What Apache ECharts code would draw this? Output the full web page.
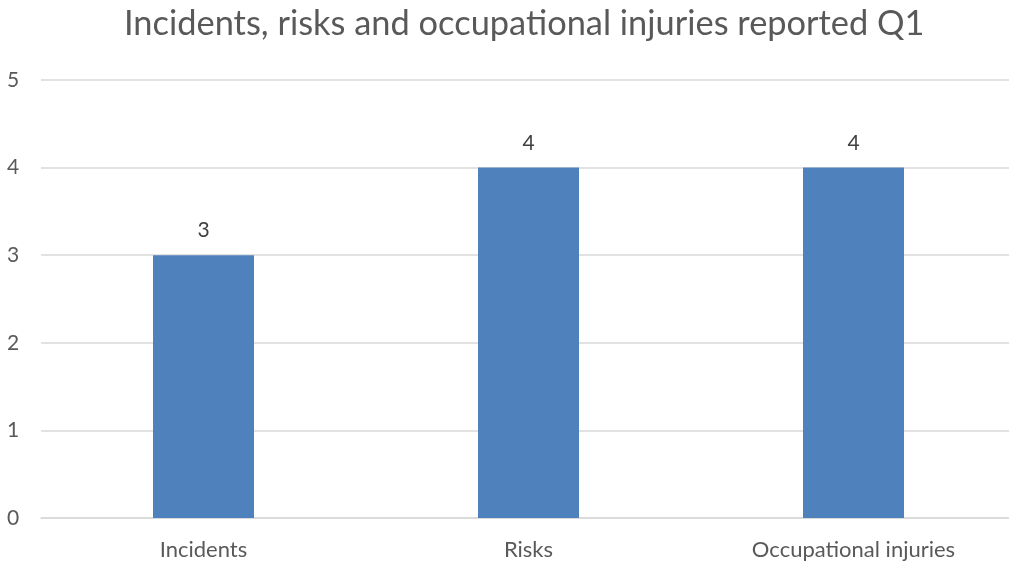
<!DOCTYPE html>
<html><head><meta charset="utf-8">
<script src="https://cdn.jsdelivr.net/npm/echarts@6/dist/echarts.min.js"></script>
<style>html,body{margin:0;padding:0;background:#fff}#c{width:1009px;height:561px}</style>
</head><body><div id="c"></div>
<script>
const categories = ["Incidents", "Risks", "Occupational injuries"];
const values = [3, 4, 4];
const titleText = "Incidents, risks and occupational injuries reported Q1";
const chart = echarts.init(document.getElementById('c'));
const font = "Lato, 'Open Sans', sans-serif";
chart.setOption({
  animation: false,
  backgroundColor: '#ffffff',
  title: {
    text: titleText, left: 119, top: 2,
    textStyle: { fontFamily: font, fontSize: 34.4, fontWeight: 'normal', color: '#595959' }
  },
  grid: { left: 41, top: 80, width: 975, bottom: 43, outerBoundsMode: 'none', containLabel: false },
  xAxis: {
    type: 'category', data: categories,
    axisLine: { lineStyle: { color: '#D9D9D9', width: 1.5 } },
    axisTick: { show: false },
    axisLabel: { fontFamily: font, fontSize: 22, color: '#595959', margin: 21 }
  },
  yAxis: {
    type: 'value', min: 0, max: 5, interval: 1,
    axisLine: { show: false }, axisTick: { show: false },
    splitLine: { lineStyle: { color: '#D9D9D9', width: 1.5 } },
    axisLabel: { fontFamily: font, fontSize: 21, color: '#595959', margin: 34, align: 'left' }
  },
  series: [{
    type: 'bar', data: values, barWidth: 101,
    itemStyle: { color: '#4F81BD' },
    label: { show: true, position: 'top', distance: 14, fontFamily: font, fontSize: 21, color: '#404040' }
  }]
});
</script></body></html>
